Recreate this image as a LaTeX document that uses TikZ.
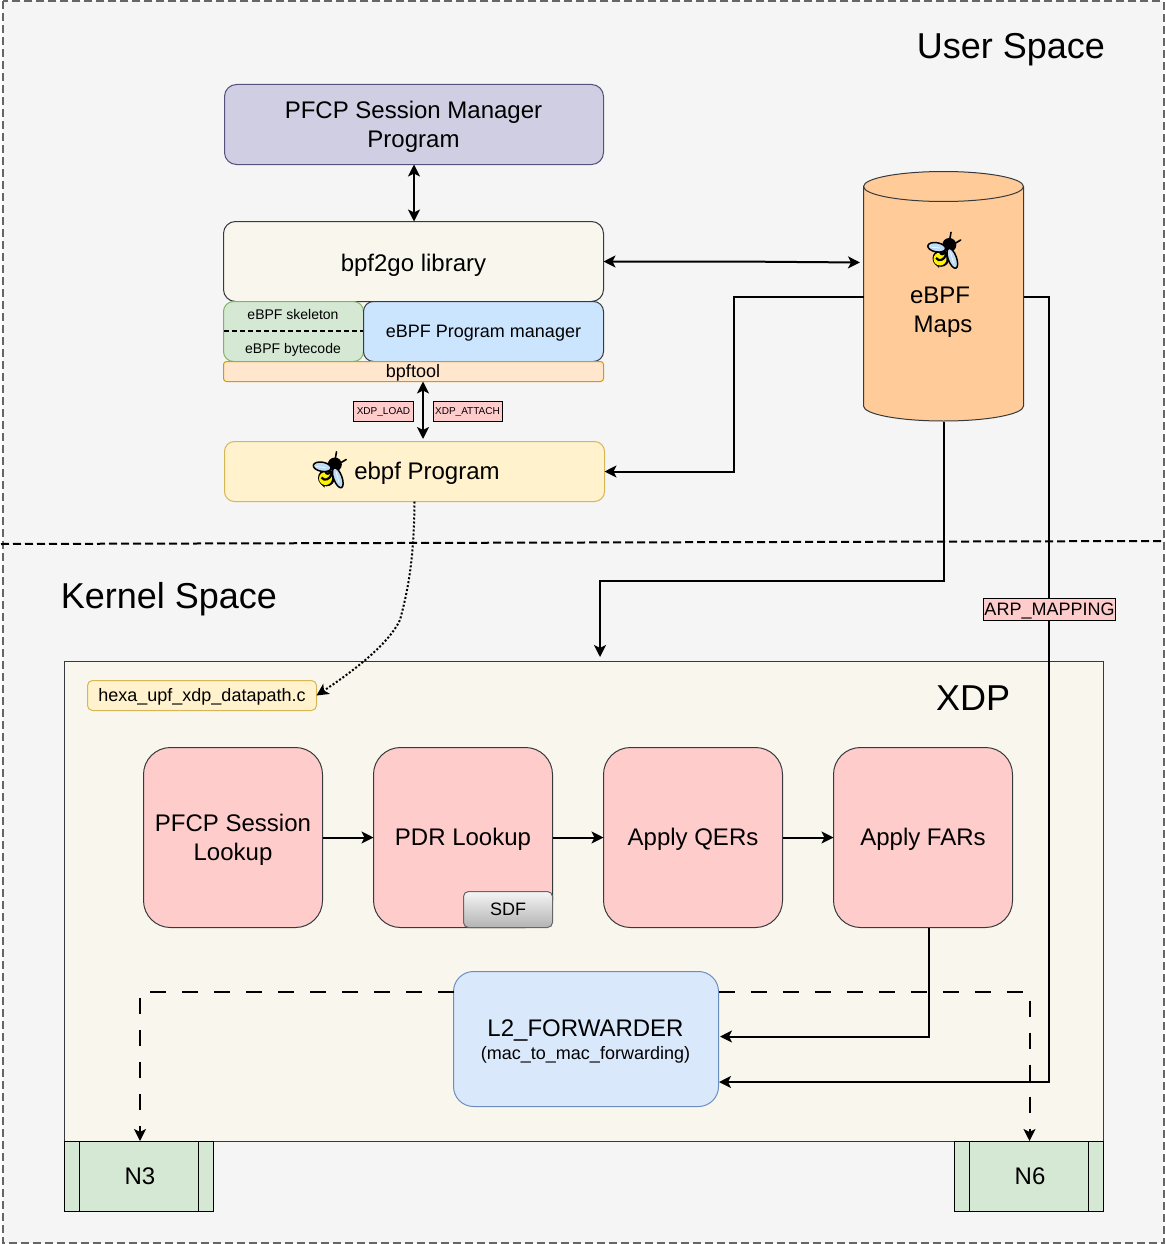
\documentclass[tikz,border=0pt]{standalone}
\usepackage{fontspec}
\setmainfont{Liberation Sans}
\usetikzlibrary{arrows.meta,calc}
\definecolor{bgc}{HTML}{F5F5F5}
\definecolor{ink}{HTML}{36393D}
\definecolor{cream}{HTML}{F9F7ED}
\definecolor{pinkf}{HTML}{FFCCCC}
\definecolor{wingc}{HTML}{BEDCF5}
\tikzset{
  x=1pt,y=-1pt,
  every node/.style={inner sep=0,outer sep=0,align=center,text=black},
  box/.style={draw,line width=1pt,font=\fontsize{24}{29}\selectfont},
  oneline/.style={text height=17.5pt,text depth=1.5pt},
  small/.style={font=\fontsize{18}{22}\selectfont,text height=13pt,text depth=0pt},
  purplebox/.style={box,fill={rgb,255:red,208;green,206;blue,226},draw={rgb,255:red,86;green,81;blue,126},rounded corners=12},
  creambox/.style={box,fill=cream,draw=ink,rounded corners=12},
  greenbox/.style={box,fill={rgb,255:red,213;green,232;blue,212},draw={rgb,255:red,130;green,179;blue,102},rounded corners=10},
  bluebox/.style={box,fill={rgb,255:red,204;green,229;blue,255},draw=ink,rounded corners=10,small,text depth=2pt},
  orangebox/.style={box,fill={rgb,255:red,255;green,230;blue,204},draw={rgb,255:red,215;green,155;blue,0},rounded corners=3,small},
  yellowbox/.style={box,fill={rgb,255:red,255;green,242;blue,204},draw={rgb,255:red,214;green,182;blue,86},rounded corners=10},
  tagbox/.style={draw=black,line width=1pt,fill=pinkf,font=\fontsize{10}{12}\selectfont},
  stagebox/.style={box,fill=pinkf,draw=ink,rounded corners=27},
  sdfbox/.style={draw={rgb,255:red,102;green,102;blue,102},line width=1pt,rounded corners=5,top color={rgb,255:red,245;green,245;blue,245},bottom color={rgb,255:red,179;green,179;blue,179},font=\fontsize{18}{22}\selectfont},
  l2box/.style={box,fill={rgb,255:red,218;green,232;blue,252},draw={rgb,255:red,108;green,142;blue,191},rounded corners=20},
  portbox/.style={draw=black,line width=1pt,fill={rgb,255:red,213;green,232;blue,212},font=\fontsize{24}{29}\selectfont},
  conn/.style={draw=black,line width=2pt,-{Stealth[length=12pt,width=12pt,inset=3pt]}},
  conn2/.style={conn,{Stealth[length=12pt,width=12pt,inset=3pt]}-{Stealth[length=12pt,width=12pt,inset=3pt]}},
  dashconn/.style={conn,dash pattern=on 16pt off 16pt},
  dotconn/.style={conn,dash pattern=on 2pt off 2pt},
  title/.style={font=\fontsize{36}{43}\selectfont},
}
\newcommand{\bee}[2]{%
  \begin{scope}[shift={(#1,#2)}]
    \draw[line width=1.6pt,line cap=round] (7.3,-10) -- (9,-19.7);
    \draw[line width=1.6pt,line cap=round] (12,-8) -- (18.7,-12);
    \fill[black] (7.3,-7) circle[radius=7];
    \fill[black] (-1,6.3) circle[radius=8.5];
    \fill[black] (-3,13) -- (-7,12) -- (-3,16) -- cycle;
    \fill[yellow] (-2,7) circle[radius=6.5];
    \draw[black,line width=2.2pt] (-6,6) .. controls (-3,10) and (2,8) .. (4,3);
    \draw[black,line width=2.2pt] (-2,0) .. controls (-1,3) and (1,3) .. (4,0);
    \draw[black,line width=1.5pt,fill=wingc] (-5.3,-4.7) ellipse[x radius=9,y radius=4.6,rotate=-10];
    \draw[black,line width=1.5pt,fill=wingc] (10.3,6.3) ellipse[x radius=10.5,y radius=4.2,rotate=-70];
    \draw[white,line width=.6pt] (-12,-5) -- (-2,-4);
    \draw[white,line width=.6pt] (8.5,0) -- (11.5,11);
  \end{scope}%
}
\begin{document}
\begin{tikzpicture}
\useasboundingbox (0,0) rectangle (1165,1244);
\draw[draw={rgb,255:red,102;green,102;blue,102},line width=2pt,fill=bgc,dash pattern=on 8pt off 4pt] (3,1) rectangle (1163.5,1243);
\coordinate (divL) at (1,544);
\coordinate (divR) at (1163,541);
\draw[line width=2pt,dash pattern=on 8pt off 4pt] (divL) -- (divR);

\node[title] (userspace) at (1011,50) {User Space};
\node[title] (kernelspace) at (169,599.5) {Kernel Space};

\node[purplebox,minimum width=379,minimum height=80] (session) at (414,124.5) {};
\node[font=\fontsize{24}{29}\selectfont] (sessiontext) at (413.5,126.5) {PFCP Session Manager\\Program};
\node[creambox,text height=20pt,text depth=0pt,minimum width=380,minimum height=80] (bpfgo) at (413.5,261.5) {bpf2go library};
\node[greenbox,minimum width=140,minimum height=60] (skel) at (293.5,331.5) {};
\node[font=\fontsize{14}{17}\selectfont] (skeltext) at (293,314) {eBPF skeleton};
\node[font=\fontsize{14}{17}\selectfont] (bytetext) at (293,349.5) {eBPF bytecode};
\coordinate (sepL) at (224,331);
\coordinate (sepR) at (363,331);
\draw[line width=2pt,dash pattern=on 5.3pt off 2.7pt] (sepL) -- (sepR);
\node[bluebox,minimum width=240,minimum height=60] (mgr) at (483.5,331.5) {eBPF Program manager};
\node[orangebox,minimum width=380,minimum height=20] (bpftool) at (413.5,371.5) {};
\node[small] (bpftooltext) at (413,371) {bpftool};
\node[tagbox,minimum width=60,minimum height=20] (xload) at (383.5,411.5) {XDP\_LOAD};
\node[tagbox,minimum width=69,minimum height=20] (xattach) at (467.5,411.5) {XDP\_ATTACH};
\node[yellowbox,minimum width=380,minimum height=60] (prog) at (414.5,471.5) {};
\node[font=\fontsize{24}{29}\selectfont,oneline] (progtext) at (427,471) {ebpf Program};
\bee{327.5}{471.5}

% cylinder
\path[draw=ink,line width=1pt,fill={rgb,255:red,255;green,204;blue,153}] (863.5,186.5) -- (863.5,406) arc[start angle=180,end angle=360,x radius=80,y radius=-15] -- (1023.5,186.5) arc[start angle=0,end angle=180,x radius=80,y radius=-15] -- cycle;
\draw[line width=1pt,ink] (863.5,186.5) arc[start angle=180,end angle=360,x radius=80,y radius=-15];
\node[minimum width=160,minimum height=250] (maps) at (943.5,296.5) {};
\node[font=\fontsize{24}{29}\selectfont] (mapstext) at (940,312) {eBPF\\\kern6pt Maps};
\bee{942}{252}

\node[draw=ink,line width=1pt,fill=cream,minimum width=1039,minimum height=480] (xdp) at (584,901.5) {};
\node[title] (xdptitle) at (973,698) {XDP};
\node[yellowbox,rounded corners=5,font=\fontsize{18}{22}\selectfont,text height=13pt,text depth=2pt,minimum width=229,minimum height=30] (hexa) at (202,695.5) {hexa\_upf\_xdp\_datapath.c};

\node[stagebox,minimum width=179,minimum height=180] (pfcp) at (233,837.5) {};
\node[font=\fontsize{24}{29}\selectfont] (pfcptext) at (233,839.5) {PFCP Session\\Lookup};
\node[stagebox,oneline,minimum width=179,minimum height=180] (pdr) at (463,837.5) {PDR Lookup};
\node[stagebox,oneline,minimum width=179,minimum height=180] (qer) at (693,837.5) {Apply QERs};
\node[stagebox,oneline,minimum width=179,minimum height=180] (far) at (923,837.5) {Apply FARs};
\node[sdfbox,minimum width=89,minimum height=36] (sdf) at (508,909.5) {SDF};
\node[l2box,minimum width=265,minimum height=135] (l2) at (586,1039) {};
\node[font=\fontsize{24}{29}\selectfont] (l2a) at (585.5,1030) {L2\_FORWARDER};
\node[font=\fontsize{18}{22}\selectfont] (l2b) at (585.5,1055) {(mac\_to\_mac\_forwarding)};

\node[portbox,minimum width=149,minimum height=70] (n3) at (139,1176.5) {\kern2pt N3};
\draw[line width=1pt] ($(n3.north west)+(15,0)$) -- ($(n3.south west)+(15,0)$);
\draw[line width=1pt] ($(n3.north east)+(-15,0)$) -- ($(n3.south east)+(-15,0)$);
\node[portbox,minimum width=149,minimum height=70] (n6) at (1029,1176.5) {\kern2pt N6};
\draw[line width=1pt] ($(n6.north west)+(15,0)$) -- ($(n6.south west)+(15,0)$);
\draw[line width=1pt] ($(n6.north east)+(-15,0)$) -- ($(n6.south east)+(-15,0)$);

% connectors
\draw[conn2] (session.south) -- (session.south |- bpfgo.north);
\coordinate (toolArrow) at (423,381.5);
\coordinate (progArrow) at (423,439);
\draw[conn2] (toolArrow) -- (progArrow);
\coordinate (mapsIn) at (860,262.5);
\coordinate (bend) at (734,261.5);
\draw[conn2] (bpfgo.east) -- (bend) -- (mapsIn);
\draw[conn] (maps.west) -- (734,296.5) -- (734,471.5) -- (prog.east);
\coordinate (xdpIn) at (600,657);
\draw[conn] (maps.south) -- (943.5,581) -- (600,581) -- (xdpIn);
\coordinate (l2InB) at (719,1082);
\draw[conn] (maps.east) -- (1048.5,296.5) -- (1048.5,1082) -- (l2InB);
\coordinate (farOut) at (929,927.5);
\coordinate (l2InA) at (720,1036.5);
\draw[conn] (farOut) -- (929,1036.5) -- (l2InA);
\draw[conn] (pfcp.east) -- (pdr.west);
\draw[conn] (pdr.east) -- (qer.west);
\draw[conn] (qer.east) -- (far.west);
\coordinate (l2TL) at (453.5,991.5);
\coordinate (l2TR) at (718.5,991.5);
\draw[dashconn] (l2TL) -- (140,991.5) -- (140,1141);
\draw[dashconn] (l2TR) -- (1029.5,991.5) -- (1029.5,1141);
\coordinate (progOut) at (414.5,501.5);
\draw[dotconn] (progOut) .. controls (414,560) and (408,590) .. (400,620) .. controls (388,645) and (352,672) .. (hexa.east);
\node[draw=black,line width=1pt,fill=pinkf,font=\fontsize{18}{22}\selectfont,text height=13pt,text depth=1.5pt,minimum width=132,minimum height=22] (arp) at (1049.5,609.5) {ARP\_MAPPING};
\end{tikzpicture}
\end{document}
